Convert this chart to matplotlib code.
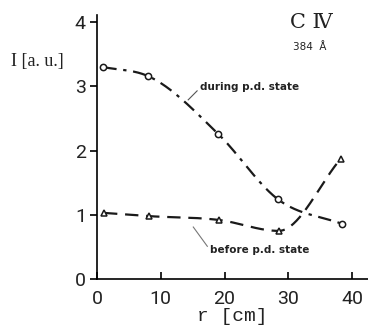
import numpy as np
import matplotlib
matplotlib.use("Agg")
import matplotlib.pyplot as plt

# radius [cm] and intensity [a.u.]
r_during = [1.0, 8.0, 19.0, 28.4, 38.4]
i_during = [3.30, 3.16, 2.26, 1.24, 0.86]

r_before = [1.1, 8.1, 19.1, 28.5, 38.2]
i_before = [1.03, 0.98, 0.92, 0.75, 1.87]

xticks = [0, 10, 20, 30, 40]
yticks = [0, 1, 2, 3, 4]


def smooth(x, y, n=60):
    # cubic hermite through the points, flat at local extrema
    x = np.asarray(x, float)
    y = np.asarray(y, float)
    m = np.gradient(y, x)
    for k in range(1, len(x) - 1):
        if (y[k] - y[k - 1]) * (y[k + 1] - y[k]) < 0:
            m[k] = 0.0
    xs, ys = [], []
    for k in range(len(x) - 1):
        h = x[k + 1] - x[k]
        t = np.linspace(0, 1, n)
        h00 = 2 * t**3 - 3 * t**2 + 1
        h10 = t**3 - 2 * t**2 + t
        h01 = -2 * t**3 + 3 * t**2
        h11 = t**3 - t**2
        xs.append(x[k] + t * h)
        ys.append(h00 * y[k] + h10 * h * m[k] + h01 * y[k + 1] + h11 * h * m[k + 1])
    return np.concatenate(xs), np.concatenate(ys)


tick_font = ["Liberation Sans Narrow", "Roboto", "DejaVu Sans"]

fig = plt.figure(figsize=(3.68, 3.35), dpi=100)
ax = fig.add_axes([0.2636, 0.167, 0.7364, 0.788])

xs, ys = smooth(r_during, i_during)
ax.plot(xs, ys, color="#1a1a1a", lw=1.6, dashes=(6, 3, 1.5, 3))
ax.plot(r_during, i_during, "o", ms=4.5, mfc="white", mec="#1a1a1a", mew=1.1)

xs, ys = smooth(r_before, i_before)
ax.plot(xs, ys, color="#1a1a1a", lw=1.6, dashes=(6, 3.5))
ax.plot(r_before, i_before, "^", ms=5, mfc="white", mec="#1a1a1a", mew=1.1)

ax.set_xlim(0, 42.5)
ax.set_ylim(0, 4.11)
ax.set_xticks(xticks)
ax.set_yticks(yticks)
ax.spines["top"].set_visible(False)
ax.spines["right"].set_visible(False)
ax.spines["left"].set_linewidth(1.2)
ax.spines["bottom"].set_linewidth(1.2)
ax.tick_params(axis="x", direction="in", length=5, width=1.2, pad=8)
ax.tick_params(axis="y", direction="out", length=5, width=1.2, pad=3)
for lab in ax.get_xticklabels() + ax.get_yticklabels():
    lab.set_family(tick_font)
    lab.set_fontsize(14)
    lab.set_color("#222222")

ax.set_xlabel("r [cm]", family=["Liberation Mono", "DejaVu Sans Mono"],
              fontsize=14, color="#222222", labelpad=0)
fig.text(0.03, 0.815, "I [a. u.]", family=["Liberation Serif", "DejaVu Serif"],
         fontsize=13, color="#222222", va="center")

ax.text(30.3, 4.0, "C \u2163", fontsize=15, family=["DejaVu Serif"],
        color="#222222", va="center")
ax.text(30.7, 3.61, "384  \u00c5", fontsize=7.5, color="#222222", va="center")

ax.plot([14.3, 15.7], [2.79, 2.93], color="#555555", lw=0.8)
ax.text(16.2, 2.99, "during p.d. state", fontsize=7.5, color="#222222",
        va="center", fontweight="bold")
ax.plot([15.1, 17.3], [0.81, 0.51], color="#777777", lw=0.8)
ax.text(17.7, 0.45, "before p.d. state", fontsize=7.5, color="#222222",
        va="center", fontweight="bold")

fig.savefig("out.png", dpi=100)
